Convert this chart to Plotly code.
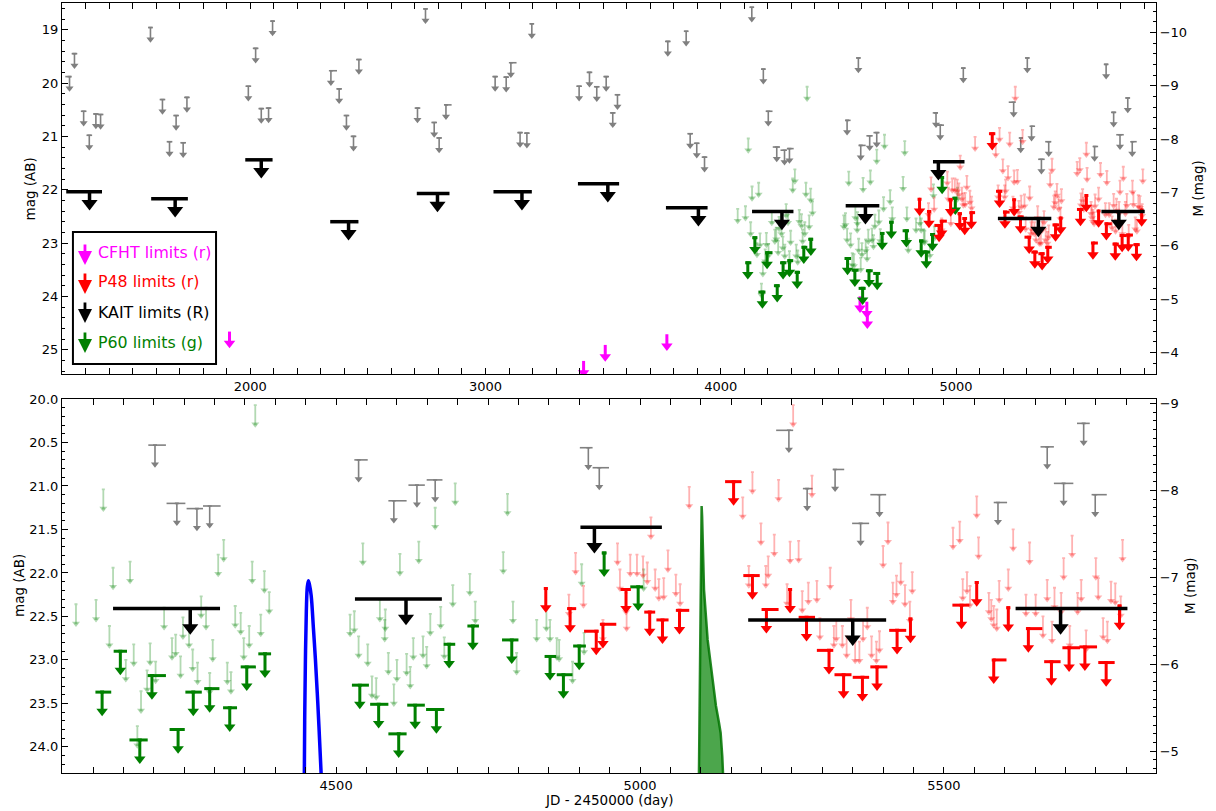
import plotly.graph_objects as go

DIST_MOD = 29.05      # mag -> absolute magnitude offset (right axes)
ARROW = 0.22          # arrow shaft length in mag (style)

# ---------------- data (JD - 2450000, mag AB) ----------------
# gray binned limits: date, mag, bin extent before / after (days)
gray_jd = [1232, 1253, 1292, 1316, 1344, 1364, 1576, 1627, 1657, 1685, 1715, 1731,
           1992, 2023, 2047, 2078, 2095, 2343, 2378, 2409, 2439, 2462, 2711, 2745,
           2782, 2803, 2832, 3041, 3088, 3108, 3147, 3176, 3197, 3398, 3442, 3473,
           3513, 3541, 3561, 3775, 3853, 3870, 3898, 3931, 4132, 4181, 4202, 4238,
           4271, 4292, 4537, 4585, 4595, 4633, 4663, 4915, 4933, 5031, 5245, 5275,
           5303, 5321, 5363, 5394, 5589, 5638, 5670, 5697, 5730, 5749]
gray_mag = [19.88, 19.45, 20.53, 20.98, 20.58, 20.59, 18.96, 20.31, 21.10, 20.61, 21.12, 20.27,
            20.06, 19.35, 20.48, 20.47, 18.84, 19.77, 20.11, 20.61, 21.00, 19.56, 20.47, 18.61,
            20.74, 21.03, 20.41, 19.88, 19.89, 19.62, 20.93, 20.94, 18.89, 20.06, 19.80, 20.07,
            19.88, 20.56, 20.22, 19.22, 19.03, 20.95, 21.13, 21.39, 18.58, 19.74, 20.53, 21.20,
            21.26, 21.23, 20.70, 19.53, 21.17, 20.99, 20.93, 20.56, 20.79, 19.72, 20.36, 21.03,
            19.53, 20.81, 21.43, 21.10, 21.19, 19.65, 20.55, 20.97, 20.28, 21.10]
gray_dlo = [18, 12, 12, 12, 12, 12, 10, 12, 12, 12, 12, 12,
            12, 12, 12, 12, 10, 4, 12, 12, 12, 12, 12, 10,
            12, 12, 4, 12, 12, 4, 12, 12, 10, 12, 12, 12,
            12, 12, 12, 12, 10, 12, 12, 12, 10, 10, 11, 17,
            17, 11, 7, 10, 9, 14, 14, 14, 11, 10, 21, 7,
            10, 4, 14, 15, 7, 10, 11, 16, 11, 6]
gray_dhi = [8, 12, 12, 12, 12, 12, 10, 12, 12, 12, 12, 12,
            12, 12, 12, 12, 10, 26, 12, 12, 12, 12, 12, 10,
            12, 12, 24, 12, 12, 24, 12, 12, 10, 12, 12, 12,
            12, 12, 12, 12, 10, 12, 12, 12, 10, 10, 18, 14,
            10, 18, 15, 10, 21, 13, 12, 7, 16, 10, 7, 9,
            10, 15, 14, 11, 15, 10, 11, 16, 10, 19]

# P60 g individual limits (faint)
p60_jd = [4072, 4105, 4117, 4127, 4133, 4154, 4161, 4167, 4173, 4179, 4189, 4194, 4203, 4217,
          4230, 4236, 4244, 4248, 4258, 4264, 4272, 4278, 4286, 4292, 4297, 4306, 4315, 4321,
          4327, 4334, 4343, 4348, 4357, 4362, 4367, 4376, 4382, 4390, 4523, 4530, 4537, 4544,
          4552, 4559, 4566, 4572, 4580, 4581, 4586, 4595, 4600, 4605, 4616, 4622, 4627, 4636,
          4643, 4649, 4655, 4663, 4672, 4678, 4692, 4696, 4720, 4729, 4775, 4782, 4791, 4797,
          4830, 4846, 4852, 4863, 4867, 4889, 4904, 4908, 5006]
p60_mag = [22.36, 22.31, 21.04, 22.61, 21.94, 23.00, 21.87, 22.82, 23.76, 23.36, 23.12, 22.81, 23.02, 22.40,
           22.75, 22.71, 22.96, 22.51, 22.61, 22.88, 23.03, 22.27, 22.40, 23.15, 22.77, 21.79, 21.62, 23.03,
           23.14, 22.38, 22.46, 22.75, 22.61, 21.87, 20.07, 22.48, 21.98, 22.22, 22.48, 22.44, 22.73, 21.66,
           22.82, 23.19, 23.21, 22.31, 22.54, 22.42, 22.92, 23.28, 23.00, 21.78, 22.93, 23.08, 22.75, 21.64,
           22.73, 22.85, 22.47, 21.25, 22.39, 22.74, 22.14, 20.97, 22.01, 22.33, 21.76, 21.09, 22.33, 22.92,
           22.54, 22.42, 22.54, 22.75, 22.77, 23.02, 21.90, 22.69, 21.96]

# P60 g binned limits
p60b_jd = [4115, 4145, 4177, 4197, 4240, 4265, 4292, 4325, 4353, 4383, 4539, 4570,
           4603, 4630, 4665, 4686, 4725, 4789, 4852, 4874, 4900, 4941, 4997]
p60b_mag = [23.37, 22.90, 23.92, 23.18, 23.80, 23.37, 23.33, 23.55, 23.08, 22.93, 23.29, 23.51,
            23.85, 23.52, 23.57, 22.82, 22.61, 22.77, 22.96, 23.17, 22.84, 21.77, 22.16]
p60b_dlo = [11, 11, 17, 7, 14, 13, 9, 11, 10, 11, 13, 14, 17, 13, 17, 9, 9, 16, 9, 11, 10, 4, 13]
p60b_dhi = [15, 11, 13, 23, 11, 14, 16, 12, 15, 10, 15, 16, 13, 16, 13, 10, 10, 11, 10, 15, 11, 4, 8]

# P48 r individual limits (faint)
p48_jd = [4883, 4894, 4907, 4939, 4963, 4967, 4977, 4978, 4984, 4995, 5005, 5012, 5018, 5025,
          5031, 5039, 5046, 5059, 5066, 5081, 5169, 5179, 5185, 5199, 5207, 5211, 5221, 5228,
          5242, 5247, 5252, 5261, 5267, 5277, 5283, 5291, 5296, 5313, 5319, 5323, 5333, 5340,
          5347, 5354, 5361, 5367, 5374, 5381, 5389, 5394, 5400, 5408, 5416, 5422, 5429, 5436,
          5444, 5448, 5515, 5526, 5531, 5538, 5543, 5554, 5557, 5574, 5578, 5582, 5587, 5591,
          5606, 5614, 5635, 5641, 5651, 5663, 5670, 5678, 5682, 5693, 5697, 5707, 5711, 5720,
          5726, 5734, 5750, 5754, 5762, 5769, 5775, 5782, 5791, 5794]
p48_mag = [22.25, 21.77, 22.15, 22.54, 21.66, 21.96, 22.23, 22.42, 21.79, 21.79, 21.81, 21.88, 21.36, 21.96,
           22.07, 22.06, 21.74, 22.02, 22.13, 21.01, 21.13, 21.92, 20.84, 21.43, 21.92, 21.81, 21.56, 20.93,
           22.13, 21.64, 20.07, 21.63, 22.21, 22.11, 20.88, 22.09, 22.52, 21.94, 22.61, 22.54, 22.61, 22.73,
           22.31, 22.79, 22.79, 22.54, 22.40, 22.73, 22.79, 22.67, 21.69, 21.42, 22.11, 22.03, 21.89, 22.14,
           22.33, 21.99, 21.48, 21.41, 22.07, 21.99, 22.15, 21.12, 21.59, 22.23, 22.31, 22.38, 22.42, 22.09,
           21.96, 21.50, 22.25, 21.65, 22.25, 22.50, 22.08, 22.56, 22.17, 22.23, 21.83, 22.61, 21.57, 22.23,
           22.08, 22.66, 21.83, 22.06, 22.52, 22.56, 22.10, 22.12, 22.27, 21.62]

# P48 r binned limits
p48b_jd = [4845, 4885, 4928, 4939, 4977, 5016, 5037, 5065, 5154, 5185, 5208, 5247, 5274, 5311, 5335,
           5366, 5390, 5423, 5445, 5529, 5554, 5582, 5606, 5639, 5677, 5706, 5732, 5767, 5789]
p48b_mag = [22.18, 22.41, 22.67, 22.59, 22.19, 22.45, 22.54, 22.43, 20.95, 22.03, 22.42, 22.19, 22.51, 22.89, 23.17,
            23.20, 23.08, 22.66, 22.53, 22.37, 22.11, 23.00, 22.40, 22.64, 23.02, 22.86, 22.85, 23.03, 22.38]
p48b_dlo = [3, 5, 20, 5, 9, 9, 10, 6, 14, 15, 8, 3, 13, 20, 15, 16, 11, 13, 3, 15, 3, 1, 3, 4, 12, 11, 9, 13, 3]
p48b_dhi = [3, 10, 4, 22, 8, 9, 10, 16, 13, 12, 20, 3, 14, 7, 13, 11, 17, 15, 3, 13, 3, 21, 3, 23, 15, 18, 20, 14, 3]

# KAIT R seasonal limits
kait_jd = [1317, 1681, 2047, 2418, 2796, 3155, 3520, 3905, 4260, 4615, 4925, 5350, 5692]
kait_mag = [22.04, 22.17, 21.44, 22.60, 22.07, 22.04, 21.89, 22.34, 22.41, 22.30, 21.475, 22.54, 22.41]
kait_start = [1218, 1579, 1979, 2340, 2708, 3034, 3393, 3767, 4133, 4531, 4902, 5178, 5618]
kait_end = [1370, 1735, 2095, 2460, 2847, 3197, 3568, 3944, 4309, 4674, 5036, 5405, 5802]

# CFHT r limits (upper panel only)
cfht_jd = [1912, 3417, 3509, 3771, 4592, 4621, 4623]
cfht_mag = [24.66, 25.21, 24.91, 24.71, 24.00, 24.10, 24.30]

# model light curves (lower panel)
blue_jd = [4447.6, 4448.3, 4449.5, 4451.0, 4452.6, 4454.4, 4456.3, 4459.0, 4462.7, 4466.0,
           4469.0, 4471.8, 4475.3, 4476.5]
blue_mag = [24.45, 23.70, 23.00, 22.44, 22.16, 22.09, 22.14, 22.26, 22.64, 23.00,
            23.38, 23.77, 24.30, 24.45]
green_jd = [5096.8, 5097.4, 5098.7, 5099.8, 5100.6, 5101.4, 5102.2, 5103.1, 5105.3, 5111.3,
            5117.9, 5125.0, 5129.9, 5132.7, 5135.4, 5137.0, 5137.5]
green_mag = [24.45, 23.90, 22.96, 21.81, 21.40, 21.23, 21.35, 21.62, 22.19, 22.77,
             23.15, 23.53, 23.72, 23.84, 24.11, 24.30, 24.45]

# ---------------- figure ----------------
FONT = "DejaVu Sans"
fig = go.Figure()


def add_limits(x, y, color, lw, cap, head, xa, ya, dlo=None, dhi=None):
    ex = None
    if dlo is not None:
        ex = dict(type="data", symmetric=False, array=dhi, arrayminus=dlo,
                  color=color, thickness=lw, width=0)
    fig.add_trace(go.Scatter(
        x=x, y=y, xaxis=xa, yaxis=ya, mode="markers",
        marker=dict(size=2, color="rgba(0,0,0,0)"),
        error_y=dict(type="constant", symmetric=False, value=ARROW, valueminus=0,
                     color=color, thickness=lw, width=cap),
        error_x=ex, hoverinfo="skip", showlegend=False))
    fig.add_trace(go.Scatter(
        x=x, y=[v + ARROW for v in y], xaxis=xa, yaxis=ya, mode="markers",
        marker=dict(symbol="triangle-down", size=head, color=color, line=dict(width=0)),
        hoverinfo="skip", showlegend=False))


GRAY = "#808080"
LGREEN = "rgba(0,128,0,0.3)"
LRED = "rgba(255,0,0,0.3)"
GREEN = "#008000"
RED = "#ff0000"
MAGENTA = "#ff00ff"

kait_dlo = [j - s for j, s in zip(kait_jd, kait_start)]
kait_dhi = [e - j for j, e in zip(kait_jd, kait_end)]

for xa, ya, top in (("x", "y", True), ("x2", "y3", False)):
    add_limits(gray_jd, gray_mag, GRAY, 1.6, 2, 7, xa, ya, gray_dlo, gray_dhi)
    add_limits(p60_jd, p60_mag, LGREEN, 1.8, 1.5, 7, xa, ya)
    add_limits(p48_jd, p48_mag, LRED, 1.8, 1.5, 7, xa, ya)
    if top:
        add_limits(cfht_jd, cfht_mag, MAGENTA, 3, 0, 10, xa, ya)
    add_limits(p60b_jd, p60b_mag, GREEN, 3, 2, 10, xa, ya, p60b_dlo, p60b_dhi)
    add_limits(p48b_jd, p48b_mag, RED, 3, 2, 10, xa, ya, p48b_dlo, p48b_dhi)
    add_limits(kait_jd, kait_mag, "black", 3.5, 0, 14, xa, ya, kait_dlo, kait_dhi)

fig.add_trace(go.Scatter(x=blue_jd, y=blue_mag, xaxis="x2", yaxis="y3", mode="lines",
                         line=dict(color="#0000ff", width=3.5, shape="spline"),
                         hoverinfo="skip", showlegend=False))
fig.add_trace(go.Scatter(x=green_jd, y=green_mag, xaxis="x2", yaxis="y3", mode="lines",
                         fill="toself", fillcolor="rgba(0,128,0,0.7)",
                         line=dict(color="rgba(0,115,0,0.85)", width=2.5),
                         hoverinfo="skip", showlegend=False))

# invisible anchors for the absolute-magnitude axes
fig.add_trace(go.Scatter(x=[3000], y=[-7], xaxis="x", yaxis="y2", mode="markers",
                         marker=dict(opacity=0), hoverinfo="skip", showlegend=False))
fig.add_trace(go.Scatter(x=[5000], y=[-7], xaxis="x2", yaxis="y4", mode="markers",
                         marker=dict(opacity=0), hoverinfo="skip", showlegend=False))

tickfont = dict(family=FONT, size=13, color="black")
common = dict(showline=True, linecolor="black", linewidth=1.2, ticks="inside", ticklen=6,
              tickwidth=1.2, tickcolor="black", showgrid=False, zeroline=False,
              tickfont=tickfont, automargin=False)


def minor(d):
    return dict(dtick=d, ticks="inside", ticklen=3, tickwidth=1, tickcolor="black", showgrid=False)


TOP_RANGE = [25.455, 18.5]
BOT_RANGE = [24.3, 20.0]

fig.update_layout(
    width=1216, height=811,
    margin=dict(l=62, r=60, t=3, b=38, autoexpand=False),
    paper_bgcolor="white", plot_bgcolor="white",
    showlegend=False,
    xaxis=dict(domain=[0, 1], anchor="y", range=[1200, 5850], dtick=1000, tick0=0,
               mirror="allticks", minor=minor(100), **common),
    yaxis=dict(domain=[0.5182, 1], anchor="x", range=TOP_RANGE, dtick=1, tick0=0,
               minor=minor(0.2), **common),
    yaxis2=dict(overlaying="y", side="right", anchor="x",
                range=[TOP_RANGE[0] - DIST_MOD, TOP_RANGE[1] - DIST_MOD], dtick=1, tick0=0,
                minor=minor(0.2), **common),
    xaxis2=dict(domain=[0, 1], anchor="y3", range=[4049, 5849], dtick=500, tick0=0,
                mirror="allticks", minor=minor(50), **common),
    yaxis3=dict(domain=[0, 0.4857], anchor="x2", range=BOT_RANGE, dtick=0.5, tick0=0,
                tickformat=".1f", minor=minor(0.1), **common),
    yaxis4=dict(overlaying="y3", side="right", anchor="x2",
                range=[BOT_RANGE[0] - DIST_MOD, BOT_RANGE[1] - DIST_MOD], dtick=1, tick0=0,
                minor=minor(0.1), **common),
)

ann = []
tfont = dict(family=FONT, size=13.5, color="black")
ann.append(dict(text="mag (AB)", x=-0.0293, y=0.759, xref="paper", yref="paper",
                textangle=-90, showarrow=False, font=tfont, xanchor="center", yanchor="middle"))
ann.append(dict(text="mag (AB)", x=-0.0393, y=0.2429, xref="paper", yref="paper",
                textangle=-90, showarrow=False, font=tfont, xanchor="center", yanchor="middle"))
ann.append(dict(text="M (mag)", x=1.0384, y=0.759, xref="paper", yref="paper",
                textangle=-90, showarrow=False, font=tfont, xanchor="center", yanchor="middle"))
ann.append(dict(text="M (mag)", x=1.031, y=0.2429, xref="paper", yref="paper",
                textangle=-90, showarrow=False, font=tfont, xanchor="center", yanchor="middle"))
ann.append(dict(text="JD - 2450000 (day)", x=0.5, y=-0.035, xref="paper", yref="paper",
                showarrow=False, font=tfont, xanchor="center", yanchor="middle"))

# legend (drawn by hand)
legend_items = [("CFHT limits (r)", MAGENTA), ("P48 limits (r)", RED),
                ("KAIT limits (R)", "black"), ("P60 limits (g)", GREEN)]
leg_text_y = [0.6766, 0.6377, 0.5987, 0.5597]
leg_tip_y = [0.6597, 0.6221, 0.5844, 0.5455]
for (label, col), ty, ay in zip(legend_items, leg_text_y, leg_tip_y):
    ann.append(dict(text=label, x=0.031, y=ty, xref="paper", yref="paper", showarrow=False,
                    xanchor="left", yanchor="middle",
                    font=dict(family=FONT, size=15.8, color=col)))
    ann.append(dict(text="", x=0.021, y=ay, xref="paper", yref="paper", showarrow=True,
                    ax=0, ay=-22, axref="pixel", ayref="pixel", arrowhead=2, arrowsize=1,
                    arrowwidth=2.8, arrowcolor=col, standoff=0))
fig.update_layout(annotations=ann)
fig.add_shape(type="rect", xref="paper", yref="paper", x0=0.01, x1=0.1408, y0=0.5312, y1=0.7026,
              line=dict(color="black", width=2), fillcolor="white", layer="above")
fig.write_html("out.html")
